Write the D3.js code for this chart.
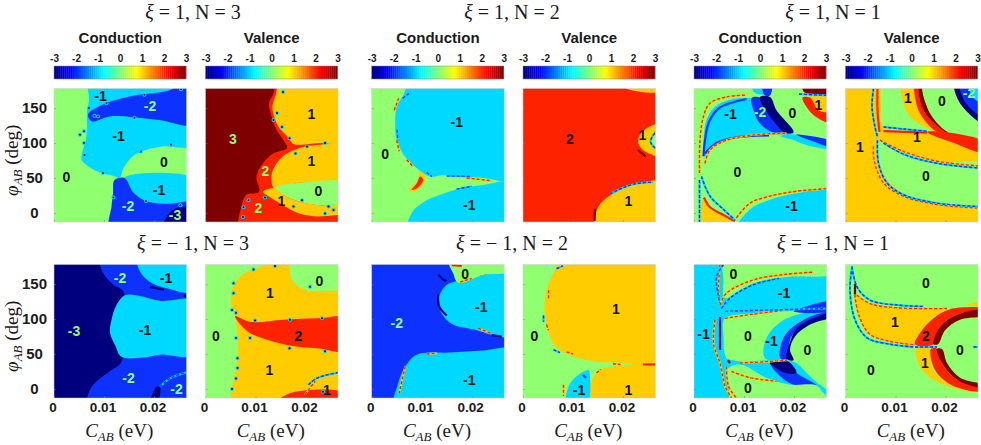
<!DOCTYPE html>
<html lang="en">
<head>
<meta charset="UTF-8">
<title>Chern number maps</title>
<script src="https://d3js.org/d3.v7.min.js"></script>
<style>
    body { margin: 0; padding: 0; background: #fff; overflow: hidden; }
    svg { display: block; }
    .serif { font-family: "Liberation Serif", serif; fill: #1a1a1a; }
    .sans { font-family: "Liberation Sans", sans-serif; font-weight: bold; fill: #1a1a1a; }
    .axis text { font-family: "Liberation Sans", sans-serif; font-weight: bold; fill: #1a1a1a; }
    .axis path { display: none; }
</style>
</head>
<body>
<script>
// Chern number per region. C is in meV here (axis prints it in eV), phi in degrees.
const levels = [-3, -2, -1, 0, 1, 2, 3];
const levelColors = ["#00007f", "#0a32ff", "#00d9ff", "#90ff70", "#ffcc00", "#ff2200", "#7f0000"];
const xTicks = [0, 10, 20];
const yTicks = [0, 50, 100, 150];
const groupTitles = ["3", "2", "1"];

// xi = 1, N = 3, conduction
const bgA = 0;
const regionsA = [
    [-1, [[7.2,178],[7,162],[6.6,143],[6.6,124],[6.4,105],[5.8,90],[5.5,76],[6.6,68],[9.1,58],[11.8,53],[13.1,50],[13.9,64],[15.8,81],[18.4,90],[21.7,95],[27,97],[27,178]]],
    [-2, [[6.8,141],[9.1,153],[12.5,162],[17,169],[22.4,174],[27,178],[27,127],[21,133],[15.8,137],[11.1,138],[7.5,131]]],
    [-1, [[14.1,50],[27,48],[27,14],[22.4,13],[18.4,17],[15.8,30]]],
    [-2, [[12.1,47],[14.1,50],[15.8,30],[18.4,17],[22.4,13],[27,14],[27,-13],[11.3,-13],[11.5,9],[11.8,28]]],
    [-3, [[24.4,6.5],[23,-1],[21.7,-13],[27,-13],[27,6.5]]]
];
const curvesA = [];
const specksA = [[5.2,112],[6,117],[6,100],[6.1,83],[8.1,139],[8.8,138],[10.5,157],[18.1,169],[16.1,136],[17.4,88],[23.4,98],[25.4,177],[9.8,57],[11.9,22],[18.4,17],[25.3,11],[7,150]];
const labelsA = [["-1",9.3,167],["-2",19.2,153],["-1",12.9,110],["0",22,73],["0",2.5,52],["-1",21,33],["-2",14.8,10],["-3",24.2,-3]];

// xi = 1, N = 3, valence
const bgB = 3;
const regionsB = [
    [2, [[14.7,178],[13.5,169],[12.7,157],[13.2,138],[14.2,119],[15.5,105],[16.3,93],[13.5,85],[11.5,71],[10.2,52],[10.7,30],[8.2,26],[7.2,9],[7,-13],[27,-13],[27,178]]],
    [1, [[15.2,178],[14,167],[13.4,153],[13.8,136],[14.8,121],[16.3,110],[17.5,99],[19.1,97.5],[22.8,100],[27,102],[27,178]]],
    [1, [[27,97],[22.8,97.5],[18.8,93],[15.5,81],[13.8,66],[13.2,52],[13.8,35],[18.8,43],[27,42]]],
    [0, [[13.8,35],[18.8,43],[27,42],[27,14],[22.8,11],[18.8,16],[16.2,23]]],
    [1, [[11.5,30],[13.8,35],[16.2,23],[18.8,16],[22.8,11],[27,9],[27,2],[22.8,-5],[18.8,-1],[15.5,11],[12.8,23]]]
];
const curvesB = [];
const specksB = [[15.5,173],[14.3,143],[13.6,133],[15.3,123],[16.8,107],[18,85],[20.3,95],[23.9,100],[11.9,22],[8.6,18],[7.6,8],[7.5,-6],[19.3,18],[24.6,9],[25.6,4],[23.9,-1],[17.6,9]];
const labelsB = [["1",21.2,142],["3",5.5,106],["1",21.2,75],["2",12,60],["0",22.6,32],["1",15.2,17],["2",10.6,7]];

// xi = 1, N = 2, conduction
const bgC = 0;
const regionsC = [
    [-1, [[8,178],[6.3,168],[5,152],[4.7,128],[5,104],[6.7,80],[9,64],[11.7,52],[14.3,54],[18.3,52],[22.3,50],[27,49],[27,178]]],
    [-1, [[27,43],[22.3,40],[17.7,35],[13.7,26],[10,14],[8,0],[7.3,-13],[27,-13]]],
    [1, [[9.5,60],[10.6,54],[10.5,44],[9,33],[7.4,31],[8.2,40],[9.4,47]]],
    [2, [[9.7,52],[10.3,47],[9,35],[8,33],[9,42]]]
];
const curvesC = [
    ["w", [[4.5,147],[5.4,164]]], ["c", [[6.2,164],[7.8,173]]], ["c", [[5.1,119],[5.2,104]]],
    ["w", [[5,104],[5.5,88]]], ["w", [[7,76],[8.3,66]]], ["c", [[15,53],[20,52]]],
    ["c", [[17,34],[20,38]]], ["w", [[19,50],[24,46]]], ["c", [[11,58],[12,52]]]
];
const specksC = [];
const labelsC = [["-1",17,130],["0",2.7,85],["-1",19.5,11]];

// xi = 1, N = 2, valence
const bgD = 2;
const regionsD = [
    [1, [[14.4,-13],[15.1,9],[17.4,25],[20,35],[22.7,41],[27,44],[27,-13]]],
    [1, [[27,128],[24.7,121],[23,104],[24,90],[27,81]]],
    [0, [[27,119],[25.7,102],[27,90]]],
    [1, [[18.2,178],[27,178],[27,175],[21.5,176]]]
];
const curvesD = [
    [3, [[14.3,-12],[14.4,6]]], [3, [[23,90],[24.5,81]]],
    ["c", [[17.4,27],[20,36],[22.7,42],[26,44]]], ["c", [[27,120],[25.5,102],[27,89]]]
];
const specksD = [];
const labelsD = [["2",9.4,106],["1",23.9,111],["1",21.1,17]];

// xi = 1, N = 1, conduction
const bgE = 0;
const regionsE = [
    [-1, [[1.9,81],[1.9,104],[2.5,133],[4.2,152],[7.2,162],[11.2,164],[14.5,159],[16.5,138],[19.9,114],[15.2,111.5],[8.5,108],[4.5,100],[2.2,81]]],
    [-2, [[11.5,164],[13.2,165],[14.9,147],[17.2,128],[19.9,115],[15.9,115],[13.2,128],[11.9,147]]],
    [-3, [[13.2,166],[15.2,166],[16.5,147],[19.9,116],[18.2,115],[15.2,138],[13.5,157]]],
    [-1, [[17.2,110],[20.5,112],[27,100],[27,92],[23,96],[20,104]]],
    [-2, [[20.5,112],[27,100],[27,93],[23.2,104]]],
    [-1, [[11.6,178],[14.5,178],[14,170],[12,173]]],
    [-2, [[13.9,178],[15.5,178],[15.2,168],[14,169]]],
    [1, [[23.2,165],[27,165],[27,140],[24.9,147]]],
    [2, [[21.7,165],[23.2,165],[24.9,147],[27,140],[27,126],[23.9,140]]],
    [3, [[22,178],[27,178],[27,173],[22,173]]],
    [-1, [[8.5,-13],[11.2,5],[15.2,19],[20.5,28],[27,33],[27,-13]]],
    [1, [[1.9,24],[3.2,5],[5.9,-3],[8.2,-13],[1.9,-13]]]
];
const curvesE = [
    [-2, [[1.9,81],[2.2,104],[3,130],[5,150],[10.5,163]]],
    [-2, [[2.2,85],[4.5,100],[8.5,108],[15,111]]],
    [2, [[2,22],[3.2,8],[5.9,-3],[8.2,-12]]],
    ["w", [[1.1,57],[1.2,104],[1.9,138],[3.2,157],[6.5,166],[10.5,168.5]]],
    ["w", [[2.2,71],[3.2,90],[6.5,104],[11.9,111.5],[18.5,114]]],
    ["w", [[8.5,-7],[11.2,14],[15.2,24],[20.5,31],[27,35]]],
    ["c", [[1.5,52],[3.2,24],[5.9,5],[8.2,-10]]],
    ["c", [[1.1,47],[1.1,-13]]],
    ["c", [[21,170],[27,168]]]
];
const specksE = [];
const labelsE = [["-1",7.3,142],["-2",13.2,145],["0",19.7,143],["1",24.9,155],["0",8.7,58],["-1",19.5,10]];

// xi = 1, N = 1, valence
const bgF = 1;
const regionsF = [
    [0, [[7.6,178],[11.3,178],[11.6,157],[13.3,136],[18.3,116],[7.6,124],[7.1,151]]],
    [1, [[11.3,178],[13.9,178],[14.6,147],[18.3,116],[13.3,135],[11.6,157]]],
    [2, [[13.9,178],[14.8,178],[15.6,147],[20.3,115],[18.3,116],[14.6,147]]],
    [3, [[14.8,178],[15.6,178],[16.6,147],[20.6,115],[20.3,115],[15.6,147]]],
    [0, [[15.6,178],[21.9,178],[22.9,157],[27,127],[27,102],[20.6,115],[16.6,147]]],
    [-3, [[21.9,178],[27,178],[27,125],[22.9,157]]],
    [-2, [[23,178],[27,178],[27,135],[24,158]]],
    [-1, [[24.7,178],[27,178],[27,155],[25.5,165]]],
    [2, [[16.3,116],[20.6,115],[27,99],[27,85],[20.9,102]]],
    [0, [[6.6,104],[8.9,92],[12.9,83],[18.3,73],[27,67],[27,9],[18.3,15],[12.9,24],[8.9,43],[6.9,71]]]
];
const curvesF = [
    [2, [[6.4,178],[6.4,147],[6.8,116]]],
    ["c", [[5.6,178],[5.3,152],[5.9,123],[6.4,109]]],
    ["c", [[7.6,123],[11.6,120],[16.3,117]]],
    [2, [[7.6,117],[16.3,115]]],
    ["w", [[6.9,104],[11.6,88],[18.3,74],[27,67]]],
    ["c", [[7.6,100],[11.6,84],[18.3,71],[27,64]]],
    ["w", [[5.6,95],[5.7,76],[7.6,43],[11.6,24],[18.3,12],[26.3,7]]],
    ["c", [[6.4,104],[6.6,71],[8.3,43],[11.6,26],[18.3,14],[27,9]]]
];
const specksF = [];
const labelsF = [["1",12.5,165],["0",19.3,160],["-2",24.7,172],["1",14.3,108],["1",2.9,95],["0",16.1,53]];

// xi = -1, N = 3, conduction
const bgG = -3;
const regionsG = [
    [-2, [[9.2,178],[9.9,165],[11.9,149],[13.9,139],[13.5,39],[11.5,27],[8.9,13],[7.2,-1],[6.9,-13],[27,-13],[27,178]]],
    [-1, [[16.7,178],[17.2,168],[19.2,153],[22.5,144],[27,139],[27,178]]],
    [-1, [[14.2,134],[12.5,120],[11.5,99],[11.2,80],[12.2,63],[13.5,46],[17.9,45],[21.2,49],[27,49],[27,125],[21.2,126],[17.2,133]]],
    [-3, [[19.2,-13],[20.5,3],[21.2,3],[20.5,-13]]]
];
const curvesG = [
    ["c", [[21.2,3],[23.2,15],[27,25]]],
    [-3, [[19.2,146],[22,142]]],
    [-3, [[26,134],[27,130]]]
];
const specksG = [];
const labelsG = [["-2",13.2,159],["-1",22.4,159],["-3",4,83],["-1",18.2,84],["-2",14.9,16],["-2",24.5,0]];

// xi = -1, N = 3, valence
const bgH = 0;
const regionsH = [
    [1, [[5.6,-13],[6.3,37],[6.4,75],[5.9,104],[5.1,122],[5.6,149],[8.3,168],[11.6,176],[16.3,178],[17.3,156],[20.3,141],[27,134],[27,-13]]],
    [2, [[5.9,104],[8.9,96],[15.6,99],[22.3,101],[27,101],[27,55],[22.3,58],[16.3,63],[11.6,72],[8.3,83]]],
    [2, [[13.6,-13],[17,-6],[27,-7],[27,-13]]]
];
const curvesH = [
    ["c", [[20.6,6],[22.3,15.5],[27,24]]],
    ["w", [[19.9,-8],[21.9,11]]]
];
const specksH = [[5.6,151],[5.6,137],[5.3,113],[6.1,109],[9.9,98],[8.9,73],[16.9,99],[23.3,101],[16.8,58],[23.9,54],[6.4,44],[6.4,30],[6.1,15],[5.3,0],[9.6,171],[13.9,176],[20.9,146],[23.5,-4],[6.1,73]];
const labelsH = [["0",22.8,155],["1",12.9,137],["0",2.1,76],["2",18.6,76],["1",12.8,27],["1",24.3,-2]];

// xi = -1, N = 2, conduction
const bgI = -2;
const regionsI = [
    [-1, [[27,168],[22.3,163],[18.3,156],[15,149],[13.3,127],[14,108],[16.3,92],[21,84],[24.3,77],[27,75]]],
    [0, [[15.3,178],[27,178],[27,169],[22.3,163],[17.3,152],[16.3,165]]],
    [-1, [[27,56],[22.3,55],[15.7,52],[9,49],[6.7,32],[5.3,8],[4.7,-13],[27,-13]]]
];
const curvesI = [
    ["w", [[17.7,153],[20,158]]], [-3, [[13.3,135],[13.5,118],[15,105]]],
    ["w", [[21.3,87],[23.7,80]]], ["w", [[6.7,32],[5.5,-6]]],
    ["w", [[11,50],[13,51]]], [2, [[16,177],[18,176]]], [-3, [[24,77],[26,75]]],
    [-3, [[14,158],[14.9,154]]], [-3, [[13.3,163],[14,159]]]
];
const specksI = [];
const labelsI = [["0",18.7,164],["-1",21.9,117],["-2",5,94],["-1",19.5,13]];

// xi = -1, N = 2, valence
const bgJ = 0;
const regionsJ = [
    [1, [[8.1,178],[6.4,170],[4.7,141],[4.3,113],[5.1,80],[6.7,59],[10.7,45],[16.1,38],[20.7,37],[27,35],[27,178]]],
    [1, [[27,32],[18.7,32],[15.4,27],[13.4,8],[12.7,-13],[27,-13]]],
    [-1, [[8.7,-13],[9.1,3],[10.7,18],[13.1,27],[13.4,18],[12.7,-13]]]
];
const curvesJ = [
    ["w", [[5.1,141],[5.1,127]]], ["w", [[4.7,92],[5.1,84]]], ["c", [[4.1,105],[4.1,96]]],
    ["c", [[6.1,56],[7.4,52]]], ["w", [[8.7,53],[10,50]]], ["w", [[8.1,6],[8.1,-10]]],
    ["w", [[14.7,23],[15.6,28]]], [2, [[24,35],[27,35]]], ["w", [[18,36],[19.5,35]]],
    ["c", [[6.7,172],[8,176]]], [-2, [[12,20],[12.6,16]]]
];
const specksJ = [];
const labelsJ = [["1",18.6,115],["0",2.3,76],["-1",11.2,-2],["1",21.1,-2]];

// xi = -1, N = 1, conduction
const bgK = -1;
const regionsK = [
    [0, [[6.2,178],[27,178],[27,166],[18.5,160],[11.9,151],[6.2,130],[5.9,156]]],
    [0, [[6.2,101],[11.9,108],[18.5,111],[27,113],[27,-6],[25.2,6],[23.2,18],[19.9,39],[9.5,39],[7.9,41],[6.5,44],[5.9,75]]],
    [-1, [[14.2,44],[14.1,65],[15.9,87],[19.2,103],[27,114],[27,111],[21.9,99],[18.5,80],[17.3,61],[17.3,43]]],
    [-2, [[17.3,43],[17.3,61],[18.5,80],[21.9,99],[27,113],[27,109],[22.5,94],[19.5,75],[18.5,41]]],
    [-3, [[18.5,43],[19.1,65],[20.9,89],[27,111],[27,106],[23.2,92],[20.2,75],[19.2,56],[19.9,41]]],
    [-2, [[19.9,111],[27,126],[27,114],[21.2,109]]],
    [-1, [[9.2,35],[15.2,38],[19.2,8],[14.5,16]]],
    [-2, [[15.2,38],[18.9,39],[20.5,23],[24.5,5],[19.2,8]]],
    [-3, [[15.2,38],[18.9,39],[20.5,23],[18.2,23]]],
    [0, [[6.5,27],[9.2,35],[14.5,16],[19.2,6],[24.5,5],[25.9,-6],[27,-13],[7.9,-13],[6.9,8]]]
];
const curvesK = [
    [-3, [[5.2,103],[5.2,56]]],
    ["w", [[5.2,178],[4.9,146],[5.2,120]]],
    ["c", [[5.9,178],[4.5,160],[5.2,122]]],
    ["w", [[5.2,120],[6.5,137],[11.9,156],[18.5,164],[23.9,167]]],
    ["c", [[5.5,115],[7.2,130],[11.9,149],[17,158]]],
    ["w", [[6.2,101],[11.9,107],[18.5,113]]],
    ["c", [[6.2,111],[15.2,113],[27,115]]],
    ["w", [[4.2,99],[3.9,65],[5.2,37],[6.2,4],[7.5,-13]]],
    ["w", [[6.5,32],[6.9,4],[8.5,-13]]],
    ["w", [[9.2,37],[14.5,39],[18.5,41]]],
    ["w", [[7.5,25],[11.2,16],[16.5,11]]],
    [3, [[6.8,41],[7.2,37]]]
];
const specksK = [];
const labelsK = [["0",7.9,165],["-1",18,137],["-1",1.9,79],["0",10.8,76],["-1",15.5,68],["0",22.7,56],["0",10.8,2]];

// xi = -1, N = 1, valence
const bgL = 0;
const regionsL = [
    [1, [[1.9,137],[2.6,104],[4.3,80],[7.6,70],[13.9,64],[14.3,70],[17,99],[20.3,115],[15.6,115],[8.9,118],[4.3,125]]],
    [2, [[13.9,64],[14.9,80],[17.6,101],[20.9,114],[27,115],[27,113],[22.9,108],[18.9,89],[17.6,64]]],
    [3, [[17.6,64],[18.9,89],[22.9,108],[27,113],[27,106],[22.9,99],[19.9,84],[18.5,64]]],
    [1, [[14.1,57],[16.9,57],[17.6,27],[21.6,4],[27,-4],[22.9,-1],[17.6,13],[14.9,32]]],
    [2, [[17.1,57],[18.5,57],[19.3,37],[22.3,13],[27,1],[27,-4],[21.6,4],[17.9,27]]],
    [3, [[18.3,57],[19.3,57],[20.3,37],[22.9,16],[27,4],[27,0],[22.3,13],[19.3,37]]],
    [1, [[24,120],[27,126],[27,120]]]
];
const curvesL = [
    ["w", [[1.9,149],[1.9,132],[2.9,101],[4.9,78],[8.9,68],[13.9,63]]],
    ["c", [[1.3,175],[.9,141],[1.9,99],[4.3,73],[8.9,64],[13.6,60]]],
    ["c", [[1.3,175],[2.3,146],[4.9,127],[10.3,120],[15.6,118]]],
    ["w", [[2.3,134],[4.9,122],[10.3,116],[20.3,115]]],
    [3, [[1.9,150],[1.9,135]]],
    ["c", [[13.9,60],[18.3,60]]],
    ["c", [[25.6,60],[27,60]]]
];
const specksL = [];
const labelsL = [["0",16.1,152],["1",9.9,96],["2",16.1,76],["0",22.9,56],["1",15.9,37],["0",5.1,27]];

const panelData = [
    [bgA, regionsA, curvesA, specksA, labelsA], [bgB, regionsB, curvesB, specksB, labelsB],
    [bgC, regionsC, curvesC, specksC, labelsC], [bgD, regionsD, curvesD, specksD, labelsD],
    [bgE, regionsE, curvesE, specksE, labelsE], [bgF, regionsF, curvesF, specksF, labelsF],
    [bgG, regionsG, curvesG, specksG, labelsG], [bgH, regionsH, curvesH, specksH, labelsH],
    [bgI, regionsI, curvesI, specksI, labelsI], [bgJ, regionsJ, curvesJ, specksJ, labelsJ],
    [bgK, regionsK, curvesK, specksK, labelsK], [bgL, regionsL, curvesL, specksL, labelsL]
];

const width = 981, height = 445;
const panelW = 132.5, panelH = 133.5;
const lefts = [54, 205.5, 371.7, 523, 694, 845.5];
const tops = [88.5, 264.5];
const titleX = [193, 512, 833];
const titleY = [19, 250];

const svg = d3.select("body").append("svg").attr("width", width).attr("height", height);
const defs = svg.append("defs");
defs.append("filter").attr("id", "soft").append("feGaussianBlur").attr("stdDeviation", 0.35);

const levelColor = d3.scaleOrdinal(levels, levelColors);
// jet colormap for the colour bars
const jet = d3.scaleLinear()
    .domain([-3, -2.25, -0.75, 0.75, 2.25, 3])
    .range(["#000080", "#0000ff", "#00ffff", "#ffff00", "#ff0000", "#800000"]);

const area = d3.line().curve(d3.curveCatmullRomClosed.alpha(0.5));
const open = d3.line().curve(d3.curveCatmullRom);

function drawPanel(col, row, data, index) {
    const [bg, regions, curves, specks, labels] = data;
    const left = lefts[col], top = tops[row];
    const x = d3.scaleLinear().domain([0, 26.5]).range([left, left + panelW]);
    const y = d3.scaleLinear().domain([-13, 178]).range([top + panelH, top]);
    const project = pts => pts.map(p => [x(p[0]), y(p[1])]);
    // points on the frame are pushed outside it, so the curve rounding stays behind the clip
    const projectOut = pts => pts.map(p => [
        p[0] >= 27 ? x(p[0]) + 8 : x(p[0]),
        p[1] >= 178 ? y(p[1]) - 8 : p[1] <= -13 ? y(p[1]) + 8 : y(p[1])
    ]);

    defs.append("clipPath").attr("id", "clip" + index).append("rect")
        .attr("x", left).attr("y", top).attr("width", panelW).attr("height", panelH);

    const g = svg.append("g").attr("clip-path", `url(#clip${index})`);
    const inner = g.append("g").attr("filter", "url(#soft)");

    inner.append("rect").attr("x", left - 2).attr("y", top - 2)
        .attr("width", panelW + 4).attr("height", panelH + 4)
        .attr("fill", levelColor(bg));

    inner.selectAll(".region").data(regions).enter().append("path")
        .attr("class", "region")
        .attr("d", d => area(projectOut(d[1])))
        .attr("fill", d => levelColor(d[0]));

    // Thin boundary features: w = yellow/red dashes, c = cyan/blue dashes, number = solid band
    curves.forEach(([kind, pts]) => {
        const d = open(project(pts));
        if (typeof kind === "number") {
            inner.append("path").attr("d", d).attr("fill", "none")
                .attr("stroke", levelColor(kind)).attr("stroke-width", 2.2);
        } else {
            inner.append("path").attr("d", d).attr("fill", "none")
                .attr("stroke", kind === "w" ? "#ffd000" : "#00d9ff").attr("stroke-width", 2);
            inner.append("path").attr("d", d).attr("fill", "none")
                .attr("stroke", kind === "w" ? "#ff2200" : "#0a32ff").attr("stroke-width", 1.4)
                .attr("stroke-dasharray", "3 2");
        }
    });

    const speck = inner.selectAll(".speck").data(specks).enter().append("g").attr("class", "speck");
    speck.append("circle").attr("cx", d => x(d[0])).attr("cy", d => y(d[1])).attr("r", 2)
        .attr("fill", "#00d9ff");
    speck.append("circle").attr("cx", d => x(d[0])).attr("cy", d => y(d[1])).attr("r", 1)
        .attr("fill", "#00007f");

    // faint tick marks inside the frame
    const tickX = d3.axisBottom(x).tickValues(xTicks).tickSize(-2).tickFormat("");
    const tickY = d3.axisLeft(y).tickValues(yTicks).tickSize(-2).tickFormat("");
    g.append("g").attr("class", "axis").attr("transform", `translate(0,${top + panelH})`).call(tickX)
        .selectAll("line").attr("stroke", "#777").attr("stroke-width", 0.5);
    g.append("g").attr("class", "axis").attr("transform", `translate(${left},0)`).call(tickY)
        .selectAll("line").attr("stroke", "#777").attr("stroke-width", 0.5);

    g.selectAll(".label").data(labels).enter().append("text")
        .attr("class", "label")
        .attr("x", d => x(d[1])).attr("y", d => y(d[2]))
        .attr("dy", "0.36em").attr("text-anchor", "middle")
        .attr("font-family", "'Liberation Sans', sans-serif")
        .attr("font-size", 14).attr("font-weight", "bold")
        .attr("fill", d => (+d[0] === -2 || +d[0] === -3 || (bg === 3 && +d[0] >= 2) || (index === 1 && d[0] === "2")) ? levelColors[3] : "#111")
        .text(d => d[0]);

    svg.append("rect").attr("x", left).attr("y", top).attr("width", panelW).attr("height", panelH)
        .attr("fill", "none").attr("stroke", "#ccc").attr("stroke-width", 0.5);

    if (col === 0) {
        const axisY = d3.axisLeft(y).tickValues(yTicks).tickSize(0);
        const ay = svg.append("g").attr("class", "axis").attr("transform", "translate(34.5,0)").call(axisY);
        ay.selectAll("text").attr("x", 0).attr("text-anchor", "middle").attr("font-size", 15);
        const cy = top + panelH / 2 + 5;
        const t = svg.append("text").attr("class", "serif").attr("font-size", 19)
            .attr("text-anchor", "middle")
            .attr("transform", `translate(18,${cy}) rotate(-90)`);
        t.append("tspan").attr("font-style", "italic").text("φ");
        t.append("tspan").attr("font-style", "italic").attr("font-size", 13).attr("dy", 4).text("AB");
        t.append("tspan").attr("dy", -4).text(" (deg)");
    }
    if (row === 1) {
        const axisX = d3.axisBottom(x).tickValues(xTicks).tickSize(0).tickPadding(4)
            .tickFormat(d => d === 0 ? "0" : (d / 1000).toFixed(2));
        const ax = svg.append("g").attr("class", "axis")
            .attr("transform", `translate(-1.5,${top + panelH})`).call(axisX);
        ax.selectAll("text").attr("font-size", 13.5);
        const t = svg.append("text").attr("class", "serif").attr("font-size", 19)
            .attr("text-anchor", "middle").attr("x", left + panelW / 2 - 1).attr("y", 437);
        t.append("tspan").attr("font-style", "italic").text("C");
        t.append("tspan").attr("font-style", "italic").attr("font-size", 13).attr("dy", 4).text("AB");
        t.append("tspan").attr("dy", -4).text(" (eV)");
    }
}

function drawColorbar(col) {
    const left = lefts[col];
    const c = d3.scaleLinear().domain([-3, 3]).range([left, left + panelW - 0.5]);
    const steps = d3.range(-3, 3, 6 / 64);
    svg.selectAll(null).data(steps).enter().append("rect")
        .attr("x", d => c(d)).attr("y", 66)
        .attr("width", c(6 / 64 - 3) - c(-3) + 0.3).attr("height", 13)
        .attr("fill", d => jet(d + 3 / 64));
    svg.append("rect").attr("x", left).attr("y", 66).attr("width", panelW - 0.5).attr("height", 13)
        .attr("fill", "none").attr("stroke", "#888").attr("stroke-width", 0.5);
    const axis = d3.axisTop(c).tickValues(levels).tickSize(0).tickPadding(0).tickFormat(d => String(d));
    const a = svg.append("g").attr("class", "axis").attr("transform", "translate(0,62)").call(axis);
    a.selectAll("text").attr("font-size", 10);
    svg.append("text").attr("class", "sans").attr("font-size", 15).attr("text-anchor", "middle")
        .attr("x", left + panelW / 2).attr("y", 43)
        .text(col % 2 === 0 ? "Conduction" : "Valence");
}

lefts.forEach((_, col) => drawColorbar(col));
panelData.forEach((d, i) => drawPanel(i % 6, Math.floor(i / 6), d, i));

// Group titles above each pair of panels
[1, -1].forEach((xi, r) => {
    groupTitles.forEach((n, c) => {
        const t = svg.append("text").attr("class", "serif").attr("font-size", 20)
            .attr("text-anchor", "middle").attr("x", titleX[c]).attr("y", titleY[r]);
        t.append("tspan").attr("font-style", "italic").text("ξ");
        t.append("tspan").text(xi === 1 ? " = 1, N = " + n : " = − 1, N = " + n);
    });
});
</script>
</body>
</html>
